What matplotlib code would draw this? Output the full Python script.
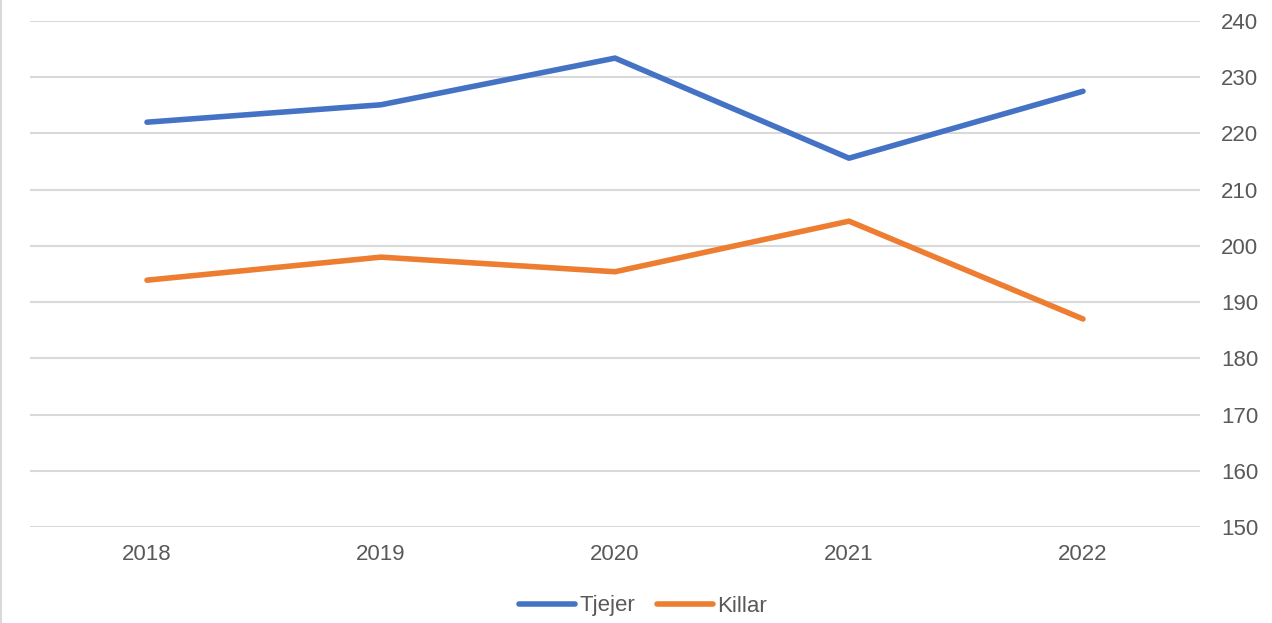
import matplotlib.pyplot as plt
from matplotlib.lines import Line2D

years = ["2018", "2019", "2020", "2021", "2022"]
tjejer = [222.0, 225.1, 233.4, 215.6, 227.5]
killar = [193.9, 198.0, 195.4, 204.4, 187.0]
y_ticks = [150, 160, 170, 180, 190, 200, 210, 220, 230, 240]

plt.rcParams["font.family"] = ["Liberation Sans", "DejaVu Sans"]

fig = plt.figure(figsize=(12.72, 6.23), dpi=100)
ax = fig.add_axes([30 / 1272, 1 - 527 / 623, 1170 / 1272, 506 / 623])

x = range(len(years))
ax.plot(x, tjejer, color="#4472C4", linewidth=4, solid_capstyle="round",
        label="Tjejer")
ax.plot(x, killar, color="#ED7D31", linewidth=4, solid_capstyle="round",
        label="Killar")

ax.set_xlim(-0.5, len(years) - 0.5)
ax.set_ylim(150, 240)
ax.set_xticks(list(x))
ax.set_xticklabels(years)
ax.set_yticks(y_ticks)
ax.yaxis.tick_right()
ax.tick_params(axis="both", length=0, labelsize=16, colors="#595959")
ax.tick_params(axis="y", pad=15)
ax.tick_params(axis="x", pad=12)
ax.grid(axis="y", color="#D9D9D9", linewidth=1.5)
ax.set_axisbelow(True)
for side in ax.spines.values():
    side.set_visible(False)

handles = [Line2D([], [], color="#4472C4", linewidth=4, solid_capstyle="round"),
           Line2D([], [], color="#ED7D31", linewidth=4, solid_capstyle="round")]
fig.legend(handles, ["Tjejer", "Killar"], loc="center",
           bbox_to_anchor=(643 / 1272, 1 - 606 / 623), ncol=2, frameon=False,
           fontsize=16, labelcolor="#595959", handlelength=2.5,
           handletextpad=0.2, columnspacing=1.0)

# thin frame line on the left edge
fig.add_artist(Line2D([1 / 1272, 1 / 1272], [0, 1], color="#D9D9D9",
                      linewidth=1.5, transform=fig.transFigure))

fig.savefig("out.png", dpi=100)
